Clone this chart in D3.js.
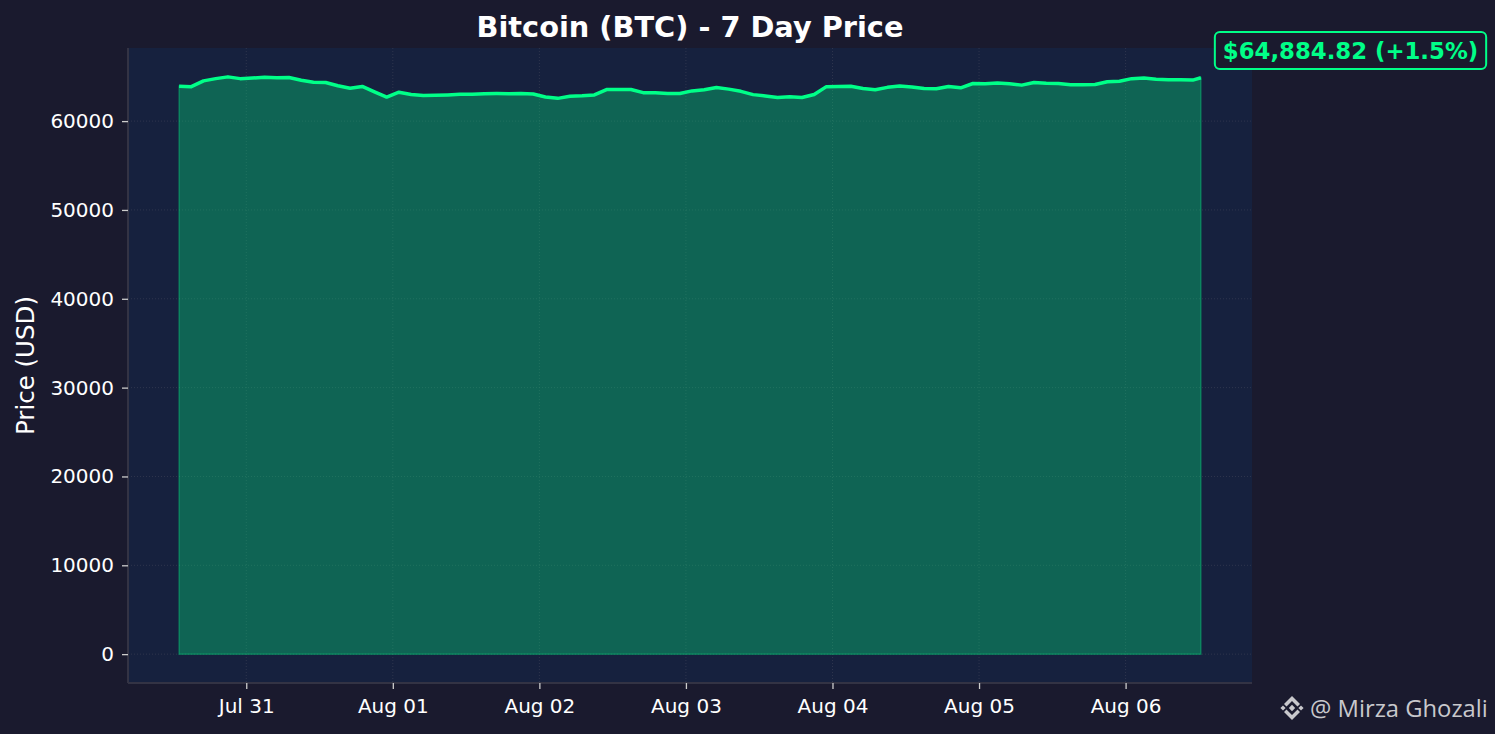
<!DOCTYPE html>
<html>
<head>
<meta charset="utf-8">
<script src="https://cdn.jsdelivr.net/npm/d3@7"></script>
<style>
  body { margin: 0; background: #1a1a2e; }
  svg { display: block; font-family: "DejaVu Sans", sans-serif; }
</style>
</head>
<body>
<div id="chart"></div>
<script>
//data: BTC price every 2 hours, last point is the latest quote
const startTime = new Date(2024, 6, 30, 13, 0);
const stepHours = 2;
const lastTime = new Date(2024, 7, 6, 12, 20);
const prices = [
    63920, 63880, 64530, 64780, 64980, 64780, 64850, 64940, 64870, 64900,
    64600, 64380, 64350, 63980, 63700, 63900, 63300, 62700, 63250, 63000,
    62870, 62900, 62950, 63030, 63020, 63080, 63100, 63090, 63110, 63050,
    62720, 62560, 62800, 62850, 62950, 63550, 63570, 63560, 63200, 63180,
    63110, 63100, 63400, 63520, 63790, 63600, 63350, 62980, 62830, 62650,
    62750, 62660, 63000, 63880, 63900, 63920, 63680, 63520, 63800, 63950,
    63850, 63660, 63650, 63900, 63750, 64230, 64200, 64300, 64200, 64050,
    64350, 64250, 64230, 64100, 64090, 64120, 64430, 64480, 64780, 64840,
    64700, 64660, 64650, 64620, 64884.82
];
const yTicks = [0, 10000, 20000, 30000, 40000, 50000, 60000];
const xTicks = ["2024-07-31", "2024-08-01", "2024-08-02", "2024-08-03", "2024-08-04", "2024-08-05", "2024-08-06"];

const data = prices.map((p, i) => ({
    time: i === prices.length - 1 ? lastTime : new Date(startTime.getTime() + i * stepHours * 3600e3),
    price: p
}));

//layout
const W = 1495, H = 734;
const plot = { left: 128, right: 1252, top: 48, bottom: 683 };
const lineColor = "#00ff88";

const svg = d3.select("#chart").append("svg")
    .attr("width", W)
    .attr("height", H);

svg.append("rect").attr("width", W).attr("height", H).attr("fill", "#1a1a2e");

//scales with matplotlib-like 5% margins
const tExt = d3.extent(data, d => d.time);
const tPad = (tExt[1] - tExt[0]) * 0.05;
const x = d3.scaleTime()
    .domain([new Date(+tExt[0] - tPad), new Date(+tExt[1] + tPad)])
    .range([plot.left, plot.right]);

const maxP = d3.max(data, d => d.price);
const y = d3.scaleLinear()
    .domain([-0.05 * maxP, 1.05 * maxP])
    .range([plot.bottom, plot.top]);

//plot background
svg.append("rect")
    .attr("x", plot.left).attr("y", plot.top)
    .attr("width", plot.right - plot.left).attr("height", plot.bottom - plot.top)
    .attr("fill", "#16213e");

//grid
const tickDates = xTicks.map(s => d3.timeParse("%Y-%m-%d")(s));
svg.append("g").selectAll("line").data(yTicks).join("line")
    .attr("x1", plot.left).attr("x2", plot.right)
    .attr("y1", d => y(d)).attr("y2", d => y(d))
    .attr("stroke", "#3a3f55").attr("stroke-width", 1)
    .attr("stroke-dasharray", "1,2").attr("opacity", 0.7);
svg.append("g").selectAll("line").data(tickDates).join("line")
    .attr("x1", d => x(d)).attr("x2", d => x(d))
    .attr("y1", plot.top).attr("y2", plot.bottom)
    .attr("stroke", "#3a3f55").attr("stroke-width", 1)
    .attr("stroke-dasharray", "1,2").attr("opacity", 0.7);

//area + line
const area = d3.area()
    .x(d => x(d.time))
    .y0(y(0))
    .y1(d => y(d.price));
svg.append("path")
    .datum(data)
    .attr("d", d => area(d) + "Z")
    .attr("fill", lineColor).attr("fill-opacity", 0.3)
    .attr("stroke", lineColor).attr("stroke-opacity", 0.3).attr("stroke-width", 1.5);

const line = d3.line()
    .x(d => x(d.time))
    .y(d => y(d.price));
svg.append("path")
    .datum(data)
    .attr("d", line)
    .attr("fill", "none")
    .attr("stroke", lineColor)
    .attr("stroke-width", 3.5)
    .attr("stroke-linejoin", "round");

//axes
const yAxis = svg.append("g")
    .attr("transform", `translate(${plot.left},0)`)
    .call(d3.axisLeft(y).tickValues(yTicks).tickFormat(d3.format("d")).tickSize(6).tickPadding(8));
const xAxis = svg.append("g")
    .attr("transform", `translate(0,${plot.bottom})`)
    .call(d3.axisBottom(x).tickValues(tickDates).tickFormat(d3.timeFormat("%b %d")).tickSize(6).tickPadding(10));

[yAxis, xAxis].forEach(g => {
    g.select(".domain").attr("stroke", "#333344").attr("stroke-width", 2);
    g.selectAll(".tick line").attr("stroke", "#cccccc").attr("stroke-width", 1.3);
    g.selectAll(".tick text").attr("fill", "#ffffff").style("font-size", "20px")
        .style("font-family", "DejaVu Sans, sans-serif");
});
//spines stop at the plot edges
yAxis.select(".domain").attr("d", `M0,${plot.top}V${plot.bottom}`);
xAxis.select(".domain").attr("d", `M${plot.left},0H${plot.right}`);

//title and axis label
svg.append("text")
    .attr("x", (plot.left + plot.right) / 2).attr("y", 37)
    .attr("text-anchor", "middle")
    .attr("fill", "#ffffff")
    .style("font-size", "28.8px").style("font-weight", "bold")
    .text("Bitcoin (BTC) - 7 Day Price");

svg.append("text")
    .attr("transform", `translate(34,${(plot.top + plot.bottom) / 2}) rotate(-90)`)
    .attr("text-anchor", "middle")
    .attr("fill", "#ffffff")
    .style("font-size", "24.5px")
    .text("Price (USD)");

//latest price badge
const first = data[0].price, last = data[data.length - 1].price;
const pct = (last - first) / first * 100;
const badge = svg.append("g");
const badgeText = badge.append("text")
    .attr("x", 1350.5).attr("y", 59)
    .attr("text-anchor", "middle")
    .attr("fill", lineColor)
    .style("font-size", "22.8px").style("font-weight", "bold")
    .text(`$${d3.format(",.2f")(last)} (${pct >= 0 ? "+" : ""}${pct.toFixed(1)}%)`);
const bb = badgeText.node().getBBox();
badge.insert("rect", "text")
    .attr("x", bb.x - 8).attr("y", 32)
    .attr("width", bb.width + 16).attr("height", 37)
    .attr("rx", 5)
    .attr("fill", "#1a1a2e")
    .attr("stroke", lineColor).attr("stroke-width", 2);

//watermark
const wm = svg.append("g").attr("fill", "#c8c8cc");
const ic = wm.append("g").attr("transform", "translate(1292,708)");
[[0, 0, 3.2], [-9, 0, 2.6], [9, 0, 2.6]].forEach(([cx, cy, r]) => {
    ic.append("path").attr("d", `M${cx},${cy - r}L${cx + r},${cy}L${cx},${cy + r}L${cx - r},${cy}Z`);
});
ic.append("path").attr("d", "M0,-12L8,-4L5.5,-1.5L0,-7L-5.5,-1.5L-8,-4Z");
ic.append("path").attr("d", "M0,12L8,4L5.5,1.5L0,7L-5.5,1.5L-8,4Z");
wm.append("text")
    .attr("x", 1310).attr("y", 717)
    .style("font-family", "Open Sans, sans-serif")
    .style("font-size", "23.8px")
    .text("@ Mirza Ghozali");
</script>
</body>
</html>
